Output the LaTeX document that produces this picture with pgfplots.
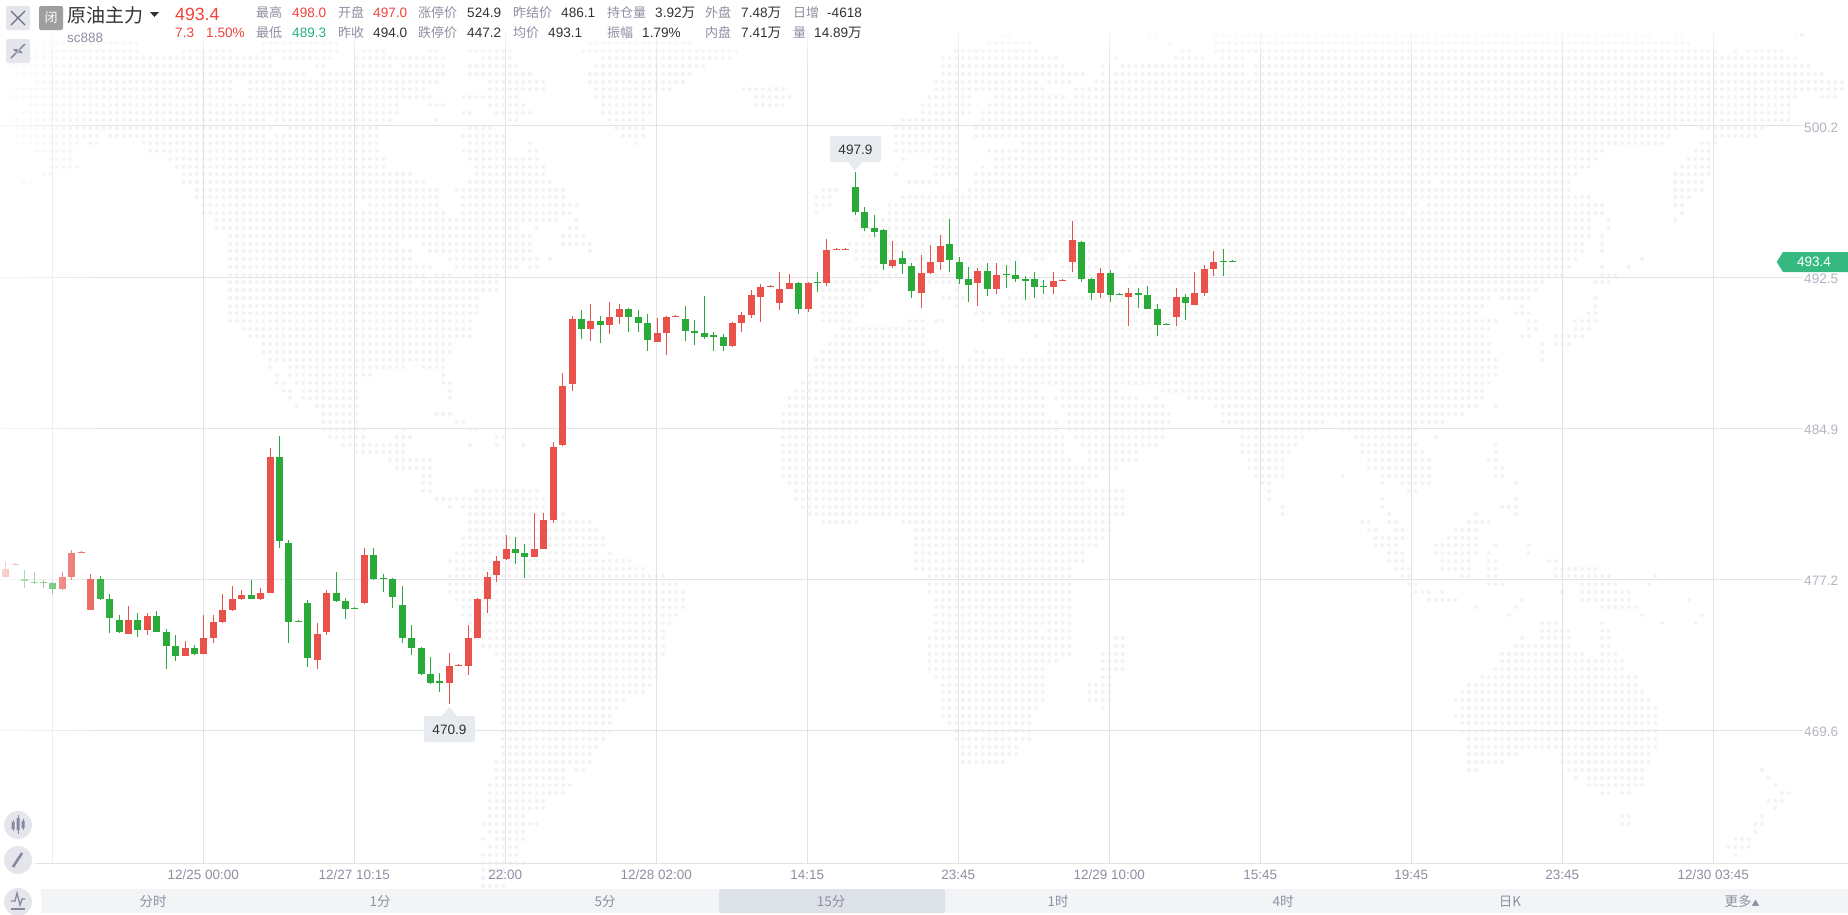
\documentclass[border=0pt]{standalone}
\usepackage{fontspec}
\usepackage{pgfplots}
\usepackage{pgfplotstable}
\pgfplotsset{compat=1.18}
\usetikzlibrary{fadings}
\setmainfont{Liberation Sans}
\newfontfamily\cjk{Noto Sans CJK SC}

\definecolor{upred}{HTML}{E9524A}
\definecolor{downgreen}{HTML}{2AAB39}
\definecolor{hdred}{HTML}{F0443A}
\definecolor{hdgreen}{HTML}{22B27C}
\definecolor{taggreen}{HTML}{36B981}
\definecolor{gridc}{HTML}{E2E2E8}
\definecolor{dotc}{HTML}{F3F3F5}
\definecolor{lab}{HTML}{8E90A2}
\definecolor{val}{HTML}{333333}
\definecolor{axlab}{HTML}{B4B5C2}
\definecolor{tabbg}{HTML}{F3F4F6}
\definecolor{tabsel}{HTML}{DDE1E8}
\definecolor{iconbg}{HTML}{E4E6EC}
\definecolor{iconfg}{HTML}{8688A0}

% i low bot top high
\pgfplotstableread{
i low bot top high
0 477.32 477.37 477.77 478.12
1 477.97 477.97 478.03 478.07
6 476.70 476.76 477.37 477.62
7 477.22 477.37 478.59 478.74
8 478.59 478.59 478.64 478.69
9 475.70 475.70 477.27 477.52
13 474.48 474.48 475.19 475.90
15 474.43 474.68 475.39 475.55
19 473.36 473.36 473.77 474.13
21 473.46 473.46 474.28 475.44
22 474.03 474.28 475.09 475.44
23 475.04 475.09 475.70 476.50
24 475.65 475.70 476.25 476.91
25 476.20 476.25 476.45 476.71
27 476.20 476.25 476.56 476.81
28 476.56 476.56 483.45 483.90
33 472.71 473.16 474.48 475.04
34 474.43 474.58 476.56 476.71
38 476.00 476.05 478.48 478.84
47 470.94 471.99 472.86 473.52
48 472.86 472.86 472.91 472.96
49 472.40 472.86 474.28 474.93
50 474.28 474.28 476.25 476.30
51 475.55 476.25 477.37 477.62
52 477.12 477.47 478.18 478.43
53 478.23 478.28 478.79 479.49
56 478.38 478.38 478.79 480.61
57 478.79 478.79 480.26 480.61
58 480.10 480.25 483.95 484.20
59 484.00 484.05 487.04 487.69
60 486.78 487.14 490.43 490.58
62 489.31 489.92 490.33 491.19
64 489.67 490.12 490.53 491.29
65 490.17 490.53 490.93 491.19
69 489.26 489.26 489.72 490.48
70 488.61 489.72 490.53 490.58
71 490.53 490.53 490.58 490.63
77 489.01 489.06 490.23 490.28
78 489.77 490.23 490.63 490.78
79 490.48 490.63 491.64 491.90
80 490.28 491.54 492.05 492.20
81 492.05 492.05 492.10 492.15
82 490.88 491.24 491.95 492.81
83 491.95 491.95 492.25 492.71
85 490.78 490.93 492.25 492.30
87 492.09 492.25 493.92 494.47
88 493.92 493.92 493.97 494.02
89 493.92 493.92 493.97 494.02
94 493.01 493.11 493.41 494.37
97 490.98 491.74 492.75 493.66
98 492.70 492.75 493.31 494.17
99 492.90 493.31 494.12 494.68
103 491.08 492.25 492.85 493.01
105 491.69 491.94 492.65 493.26
111 491.69 492.04 492.35 492.80
112 492.35 492.35 492.40 492.45
113 492.80 493.31 494.42 495.39
116 491.50 491.75 492.76 493.01
119 490.08 491.55 491.75 492.00
124 490.08 490.53 491.55 492.00
126 491.14 491.14 491.75 492.81
127 491.60 491.75 492.96 493.17
128 492.61 492.96 493.32 493.88
}\upT

\pgfplotstableread{
i low bot top high
2 476.81 477.17 477.27 477.72
3 477.02 477.07 477.12 477.62
4 476.81 477.07 477.12 477.22
5 476.50 476.76 477.07 477.12
10 476.20 476.25 477.27 477.42
11 474.53 475.29 476.25 476.50
12 474.53 474.58 475.19 475.44
14 474.33 474.68 475.19 475.55
16 474.58 474.58 475.39 475.65
17 472.71 473.87 474.58 474.73
18 473.11 473.36 473.87 474.43
20 473.41 473.46 473.77 473.93
26 476.25 476.25 476.45 477.22
29 478.84 479.19 483.45 484.51
30 474.03 475.09 479.09 479.24
31 475.09 475.09 475.14 475.19
32 472.81 473.26 476.05 476.20
35 476.10 476.15 476.56 477.62
36 475.24 475.75 476.15 476.30
37 475.75 475.75 475.80 475.85
39 477.22 477.27 478.48 478.84
40 476.61 477.27 477.32 477.52
41 475.80 476.35 477.27 477.32
42 474.03 474.28 475.95 476.91
43 473.41 473.77 474.28 474.93
44 472.40 472.46 473.77 473.82
45 471.94 471.99 472.46 473.31
46 471.54 471.99 472.10 472.51
54 478.02 478.59 478.79 479.39
55 477.32 478.38 478.59 479.04
61 489.42 489.92 490.43 490.88
63 489.21 490.12 490.33 490.58
66 489.77 490.53 490.93 490.98
67 489.77 490.23 490.53 490.88
68 488.81 489.36 490.23 490.68
72 489.31 489.82 490.43 491.09
73 489.11 489.72 489.82 490.38
74 489.42 489.52 489.72 491.59
75 488.81 489.52 489.62 489.77
76 488.81 489.06 489.52 489.67
84 490.68 490.93 492.25 492.30
86 491.79 492.25 492.30 492.80
90 495.69 495.84 497.11 497.87
91 494.88 495.03 495.84 496.09
92 494.58 494.83 495.03 495.69
93 492.90 493.21 494.93 494.98
95 492.70 493.21 493.51 493.87
96 491.49 491.84 493.11 493.26
100 492.80 493.41 494.22 495.49
101 492.20 492.45 493.31 493.56
102 491.28 492.15 492.45 493.06
104 491.59 491.94 492.85 493.26
106 491.99 492.65 492.70 493.16
107 492.30 492.45 492.65 493.36
108 491.39 492.35 492.45 492.60
109 491.49 492.04 492.45 492.80
110 491.70 492.05 492.10 492.41
114 492.31 492.46 494.33 494.38
115 491.39 491.75 492.46 492.51
117 491.29 491.65 492.76 492.91
118 491.65 491.65 491.70 491.75
120 490.99 491.65 491.75 492.00
121 490.94 490.94 491.65 492.10
122 489.57 490.13 490.94 491.19
123 490.13 490.13 490.18 490.23
125 490.38 491.24 491.55 491.70
129 492.61 493.32 493.37 493.98
130 493.32 493.32 493.37 493.42
}\downT

% background dot map: one row of dot runs, read off the zoomed crops
\newcommand{\R}[2]{%
  \foreach \ra/\rb in {#2}{%
    \pgfmathsetmacro\xa{\mx+\ra/\ms}%
    \pgfmathsetmacro\xb{\mx+\rb/\ms}%
    \pgfmathsetmacro\sx{round((\xa-3.7)/6.66)*6.66+3.7}%
    \pgfmathsetmacro\ex{max(\xb+0.5,\sx+0.02)}%
    \pgfmathsetmacro\yy{\my+#1/3}%
    \draw[dotc,line width=4pt,line cap=round,dash pattern=on 0.01pt off 6.65pt] (\sx,\yy) -- (\ex,\yy);
  }%
}
\newcommand{\hl}[3]{\node[anchor=base west,inner sep=0pt,text=lab,font=\cjk\fontsize{13}{13}\selectfont] at (#1,#2) {#3};}
\newcommand{\hv}[4][val]{\node[anchor=base west,inner sep=0pt,text=#1,font=\fontsize{13.6}{13.6}\selectfont] at (#2,#3) {#4};}
\newcommand{\tabt}[2]{\node[text=lab,font=\cjk\fontsize{13.5}{13.5}\selectfont,inner sep=0pt] at (#1,901.5) {#2};}

\begin{document}
\begin{tikzpicture}[x=1pt,y=-1pt]
\useasboundingbox (0,0) rectangle (1848,914);
\fill[white] (0,0) rectangle (1848,914);

\def\mx{0}\def\ms{1.697}\def\my{0}
\R{128}{60/240,445/575,1000/1180}
\R{152}{60/240,310/400,445/575,615/660,730/745,795/870,990/1255}
\R{175}{20/460,480/560,600/760,815/870,1020/1245}
\R{198}{20/460,535/550,610/670,680/760,795/880,1015/1200}
\R{222}{30/520,545/760,800/900,1000/1175}
\R{245}{60/395,420/745,830/925,1000/1165}
\R{268}{20/395,430/720,830/925,1010/1140,1260/1335}
\R{291}{20/400,420/740,790/880,1010/1110,1285/1345}
\R{315}{50/680,730/755,830/890,1020/1110,1285/1335}
\R{338}{40/680,785/800,840/900,1025/1105}
\R{361}{20/450,470/665,740/740,860/880,1030/1100,1535/1568}
\R{384}{30/460,490/640,800/835,1045/1100,1520/1568}
\R{407}{30/170,190/450,465/640,785/855,1060/1095,1525/1568}
\R{430}{30/130,150/165,240/640,795/855,900/900,1080/1080,1525/1568}
\R{453}{60/120,260/640,785/855,900/915,1525/1560}
\R{477}{90/120,290/650,795/855,865/915,1535/1535}
\R{500}{90/130,300/650,810/925}
\R{523}{70/85,310/700,810/925,1525/1525}
\R{546}{45/60,310/720,800/935,1545/1568}
\R{569}{330/745,775/960,1400/1420}
\R{592}{330/745,785/960,1385/1415,1535/1568}
\R{615}{350/600,625/745,785/985,1385/1415,1510/1568}
\R{638}{350/755,785/970,1385/1395,1510/1568}
\R{661}{365/950,980/980,1450/1568}
\R{685}{365/880,910/910,965/985,1465/1568}
\R{708}{390/900,955/995,1465/1568}
\R{731}{385/680,720/905,955/1005,1440/1568}
\R{754}{385/700,725/905,1000/1000,1455/1568}
\R{777}{385/700,760/915,935/935,1455/1568}
\R{800}{385/735,770/885,900/915,1465/1530}
\R{824}{385/720,745/770,805/850,1465/1530}
\R{847}{385/700,720/850,1400/1495}
\R{870}{385/850,1400/1480}
\R{893}{385/815,1400/1470}
\R{917}{385/810,1400/1470}
\R{940}{395/815,1400/1460}
\R{963}{395/800,1400/1450,1540/1568}
\R{986}{410/800,1425/1568}
\R{1009}{420/800,1415/1568}
\R{1033}{445/770,1410/1568}
\R{1056}{445/770,1400/1568}
\R{1079}{460/460,475/755,1385/1568}
\R{1102}{460/460,490/685,720/755,1385/1568}
\R{1125}{470/470,490/630,750/750,1375/1568}
\R{1149}{470/485,500/610,750/770,1365/1568}
\R{1172}{480/495,510/610,760/760,1350/1568}
\R{1195}{490/490,520/610,760/760,1340/1568}
\R{1218}{505/505,535/610,1340/1568}
\R{1241}{545/610,740/770,1330/1568}
\R{1265}{545/610,775/790,1330/1568}
\R{1288}{545/620,685/685,800/815,1330/1568}
\R{1311}{555/620,670/700,840/860,1330/1568}
\R{1334}{580/685,800/800,845/845,890/890,1330/1568}
\R{1357}{600/690,1330/1568}
\R{1380}{660/735,1330/1568}
\R{1403}{670/735,1330/1568}
\R{1427}{715/735,1330/1568}

\def\mx{924}
\R{35}{380/395,530/530,615/1030}
\R{58}{380/395,510/550,580/1040,1120/1190}
\R{82}{355/395,510/1040,1135/1215}
\R{105}{130/155,380/395,490/1235,1270/1290,1480/1495}
\R{128}{115/180,420/420,500/540,555/1300}
\R{152}{60/190,435/460,500/540,555/1345,1380/1380,1400/1460}
\R{175}{35/230,330/330,425/480,510/540,570/570,590/1480}
\R{198}{30/240,300/310,340/545,560/1505}
\R{222}{35/270,300/300,330/540,560/1530}
\R{245}{25/190,215/255,295/1560}
\R{268}{15/210,260/1490,1500/1568}
\R{291}{10/85,125/235,260/1485,1525/1550}
\R{315}{0/85,115/1475}
\R{338}{0/85,100/1475}
\R{361}{0/60,95/1340,1350/1475}
\R{384}{0/55,90/1280,1320/1430}
\R{407}{0/55,90/1270,1340/1415}
\R{430}{0/60,170/1255,1320/1345}
\R{453}{0/60,115/1155,1310/1340}
\R{477}{15/55,125/1140,1300/1340}
\R{500}{15/55,95/110,125/1130,1285/1335}
\R{523}{20/55,90/1115,1275/1335}
\R{546}{0/30,90/860,875/1100,1275/1325}
\R{569}{60/60,80/1100,1275/1325}
\R{592}{0/850,860/1130,1275/1305}
\R{615}{0/840,855/1155,1275/1290}
\R{638}{0/815,830/1155,1285/1285}
\R{661}{0/1130,1160/1160,1275/1275}
\R{685}{0/1130,1160/1160}
\R{708}{0/1130,1150/1150}
\R{731}{0/1120,1150/1150}
\R{754}{0/350,375/1120,1150/1150}
\R{777}{0/165,195/210,245/325,375/1110,1220/1220}
\R{800}{0/165,230/325,350/1100,1150/1150,1195/1195}
\R{824}{0/160,230/325,350/1085,1150/1180}
\R{847}{0/60,350/1050,1140/1165}
\R{870}{60/60,350/1040}
\R{893}{35/90,140/960,980/1030,1140/1140}
\R{917}{50/50,135/950,1015/1015,1140/1140}
\R{940}{90/120,135/940,1000/1030,1125/1145}
\R{963}{25/40,95/95,150/970,1025/1040,1105/1145}
\R{986}{220/960,1025/1040,1100/1130}
\R{1009}{195/195,220/950,1015/1030,1070/1120}
\R{1033}{215/960,1050/1050,1070/1100}
\R{1056}{0/30,85/110,215/960,1050/1050}
\R{1079}{0/40,80/140,170/970,1050/1050}
\R{1102}{0/970}
\R{1125}{0/970}
\R{1149}{0/960}
\R{1172}{0/200,230/335,410/950}
\R{1195}{0/210,225/360,390/390,445/950}
\R{1218}{0/210,240/405,500/940,970/970}
\R{1241}{0/210,250/425,510/920}
\R{1265}{0/225,250/425,510/680,715/880}
\R{1288}{0/225,250/415,545/665,715/835}
\R{1311}{0/235,260/405,545/645,730/825,865/865}
\R{1334}{0/245,270/395,545/630,740/835,965/965}
\R{1357}{0/245,285/370,545/620,740/740,760/850,965/965}
\R{1380}{0/255,285/360,555/610,760/860,955/970}
\R{1403}{0/270,285/325,555/610,760/860,965/985}
\R{1427}{0/300,560/610,715/715,775/860,965/990}

\def\mx{400}\def\ms{1.12}\def\my{460}
\R{70}{25/35,435/770,965/980,1100/1100,1120/1155,1250/1250}
\R{93}{25/35,85/155,445/815,970/980,1130/1140}
\R{117}{40/165,445/815,970/970,1100/1100,1250/1250}
\R{140}{55/55,70/165,450/810,985/995,1100/1100,1235/1250}
\R{163}{80/185,460/810,985/995,1105/1105,1205/1205,1250/1250}
\R{186}{80/215,475/515,560/800,1075/1085,1105/1120,1195/1220}
\R{210}{80/225,580/795,1085/1095,1115/1125,1180/1205}
\R{233}{70/230,580/790,1090/1125,1175/1205}
\R{256}{70/230,580/780,1095/1115,1160/1205,1225/1225,1265/1265}
\R{280}{65/225,235/235,580/770,1105/1125,1160/1205,1220/1220,1265/1265}
\R{303}{55/260,580/765,1105/1125,1165/1200,1220/1230,1285/1295}
\R{326}{60/275,580/755,1115/1130,1165/1200,1220/1230,1295/1340}
\R{349}{55/300,590/750,1120/1135,1190/1200,1220/1230,1295/1355,1405/1405}
\R{372}{55/315,595/690,700/755,1130/1140,1220/1235,1325/1365,1400/1400}
\R{396}{55/320,595/690,700/750,1135/1155,1165/1165,1300/1300,1325/1380}
\R{419}{60/320,600/750,1150/1185,1255/1255,1325/1380,1445/1445}
\R{442}{70/320,600/750,1205/1205,1250/1250,1345/1385}
\R{465}{70/315,600/755,1240/1240,1390/1390,1460/1460}
\R{488}{75/305,600/720,730/755,1280/1295,1345/1345,1415/1415,1450/1450}
\R{512}{80/300,600/715,730/755,1280/1310,1345/1355}
\R{535}{85/300,595/755,805/815,1255/1255,1280/1310,1345/1355}
\R{558}{90/300,595/755,800/815,1250/1310,1345/1360}
\R{581}{105/300,595/750,785/810,1235/1325,1345/1365}
\R{604}{115/290,595/735,785/810,1235/1370}
\R{628}{115/290,595/725,785/810,1225/1370}
\R{651}{115/290,600/725,785/800,1210/1385}
\R{674}{115/285,610/725,775/800,1195/1385}
\R{697}{115/275,610/725,775/800,1190/1395}
\R{720}{115/250,610/725,775/795,1180/1400}
\R{743}{115/245,610/715,785/785,1190/1410}
\R{767}{115/240,610/710,1180/1410}
\R{790}{115/240,615/710,1190/1410}
\R{813}{115/240,625/705,1190/1410}
\R{836}{115/230,625/705,1195/1410}
\R{860}{115/225,630/695,1195/1410}
\R{883}{115/215,630/690,1195/1250,1300/1405}
\R{906}{105/215,630/680,1195/1235,1305/1400}
\R{929}{105/185,195/210,1195/1205,1310/1395,1525/1525}
\R{953}{105/185,1315/1315,1330/1395,1530/1530}
\R{976}{100/195,1335/1395,1540/1540}
\R{999}{100/185,1345/1355,1370/1380,1545/1555}
\R{1022}{100/165,1535/1550}
\R{1045}{100/165,1540/1540}
\R{1069}{100/140,1370/1380,1525/1525}
\R{1092}{95/155,1370/1380,1520/1530}
\R{1115}{100/140,1515/1515}
\R{1138}{95/95,105/140,1495/1510}
\R{1161}{100/130,1490/1510}
\R{1185}{90/135,1495/1495}
\R{1208}{95/140}
\R{1231}{95/120}
\R{1254}{95/120}
\R{1277}{95/120}
\R{1300}{100/120,180/180}
\R{1323}{100/125}

\begin{axis}[
  at={(0pt,-863.3pt)},anchor=south west,
  scale only axis,width=1803pt,height=863.3pt,
  xmin=-0.615,xmax=190.43,ymin=462.866,ymax=506.577,
  axis line style={draw=none},
  major tick length=0pt,
  grid=major,
  grid style={gridc,line width=1pt},
  xtick={4.93,20.93,36.93,52.93,68.93,84.93,100.93,116.93,132.93,148.93,164.93,180.93},
  xticklabels={,12/25 00:00,12/27 10:15,22:00,12/28 02:00,14:15,23:45,12/29 10:00,15:45,19:45,23:45,12/30 03:45},
  ytick={469.6,477.25,484.9,492.55,500.2},
  yticklabels={469.6,477.2,484.9,492.5,500.2},
  yticklabel pos=right,
  xticklabel style={text=lab,font=\fontsize{13.5}{13.5}\selectfont,inner sep=0pt,yshift=-6.5pt},
  yticklabel style={text=axlab,font=\fontsize{13.6}{13.6}\selectfont,inner sep=0pt,xshift=1pt,yshift=-2pt},
  clip=true,
  candle/.style={only marks,mark=*,mark size=0pt,mark options={draw=none,fill=none},forget plot},
]
% wicks first, bodies on top
\addplot[candle,error bars/.cd,y dir=plus,y explicit,error mark=none,
  error bar style={upred,line width=1pt}]
  table[x=i,y=low,y error expr=\thisrow{high}-\thisrow{low}] {\upT};
\addplot[candle,error bars/.cd,y dir=plus,y explicit,error mark=none,
  error bar style={downgreen,line width=1pt}]
  table[x=i,y=low,y error expr=\thisrow{high}-\thisrow{low}] {\downT};
\addplot[candle,error bars/.cd,y dir=plus,y explicit,error mark=none,
  error bar style={upred,line width=7pt}]
  table[x=i,y=bot,y error expr=\thisrow{top}-\thisrow{bot}] {\upT};
\addplot[candle,error bars/.cd,y dir=plus,y explicit,error mark=none,
  error bar style={downgreen,line width=7pt}]
  table[x=i,y=bot,y error expr=\thisrow{top}-\thisrow{bot}] {\downT};
\end{axis}

% fades at the left and top edges
\fill[white,path fading=east] (-37.5,0) rectangle (112.5,863);
\fill[white] (0,0) rectangle (1848,30);
\fill[white,path fading=south] (0,10) rectangle (1803,70);

% baseline and tab bar
\draw[gridc,line width=1pt] (35,863.3) -- (1848,863.3);
\fill[tabbg] (41,889) rectangle (1848,913);
\fill[tabsel,rounded corners=2pt] (719,889) rectangle (945,913);
\tabt{153}{分时}\tabt{380}{1分}\tabt{605}{5分}\tabt{831}{15分}
\tabt{1058}{1时}\tabt{1283}{4时}\tabt{1510}{日K}\tabt{1742}{更多{\fontsize{8}{8}\selectfont ▲}}

% high / low callouts
\fill[tabsel!70!white,rounded corners=2pt] (830,136) rectangle (881,162);
\fill[tabsel!70!white] (848,162) -- (855,171) -- (862,162) -- cycle;
\node[text=val,font=\fontsize{13.6}{13.6}\selectfont,inner sep=0pt] at (855.5,149.5) {497.9};
\fill[tabsel!70!white,rounded corners=2pt] (424,716) rectangle (475,742);
\fill[tabsel!70!white] (442,716) -- (449.5,707) -- (457,716) -- cycle;
\node[text=val,font=\fontsize{13.6}{13.6}\selectfont,inner sep=0pt] at (449.5,729.5) {470.9};

% last price tag
\fill[taggreen] (1776.7,262) -- (1783,252) -- (1848,252) -- (1848,272) -- (1783,272) -- cycle;
\node[text=white,font=\fontsize{13.6}{13.6}\selectfont,inner sep=0pt] at (1814,262) {493.4};

% header
\fill[iconbg,rounded corners=2pt] (6,6) rectangle (30,30);
\draw[iconfg!80!black,line width=1.2pt] (11,11) -- (25,25) (25,11) -- (11,25);
\fill[iconbg,rounded corners=2pt] (6,39) rectangle (30,63);
\draw[iconfg,line width=1.6pt] (11,58) -- (16,53) (25,44) -- (20,49);
\fill[iconfg] (13,49) -- (17.5,49) -- (17.5,53.5) -- cycle (23,53) -- (18.5,53) -- (18.5,48.5) -- cycle;
\fill[black!38,rounded corners=2pt] (39,6) rectangle (63,30);
\node[text=white,font=\cjk\fontsize{13}{13}\selectfont,inner sep=0pt] at (51,18) {闭};
\node[anchor=base west,inner sep=0pt,text=val,font=\cjk\fontsize{19}{19}\selectfont] at (67,22) {原油主力};
\fill[val] (150,12) -- (159,12) -- (154.5,17) -- cycle;
\node[anchor=base west,inner sep=0pt,text=lab,font=\fontsize{13.5}{13.5}\selectfont] at (67,42) {sc888};
\node[anchor=base west,inner sep=0pt,text=hdred,font=\fontsize{17.7}{17.7}\selectfont] at (175,20.5) {493.4};
\hv[hdred]{175}{37.7}{7.3}\hv[hdred]{206}{37.7}{1.50\%}
\hl{256}{17.7}{最高}\hv[hdred]{292}{17.7}{498.0}\hl{338}{17.7}{开盘}\hv[hdred]{373}{17.7}{497.0}
\hl{418}{17.7}{涨停价}\hv{467}{17.7}{524.9}\hl{513}{17.7}{昨结价}\hv{561}{17.7}{486.1}
\hl{607}{17.7}{持仓量}\hv{655}{17.7}{3.92{\cjk 万}}\hl{705}{17.7}{外盘}\hv{741}{17.7}{7.48{\cjk 万}}
\hl{793}{17.7}{日增}\hv{827}{17.7}{-4618}
\hl{256}{37.7}{最低}\hv[hdgreen]{292}{37.7}{489.3}\hl{338}{37.7}{昨收}\hv{373}{37.7}{494.0}
\hl{418}{37.7}{跌停价}\hv{467}{37.7}{447.2}\hl{513}{37.7}{均价}\hv{548}{37.7}{493.1}
\hl{607}{37.7}{振幅}\hv{642}{37.7}{1.79\%}\hl{705}{37.7}{内盘}\hv{741}{37.7}{7.41{\cjk 万}}
\hl{793}{37.7}{量}\hv{814}{37.7}{14.89{\cjk 万}}

% tool buttons, bottom left
\fill[iconbg] (18,825) circle (14);
\fill[iconfg] (11.5,822) rectangle (14.5,829) (16.5,818) rectangle (19.5,830) (21.5,821) rectangle (24.5,828);
\draw[iconfg,line width=1pt] (13,820) -- (13,831) (18,815) -- (18,834) (23,819) -- (23,830);
\fill[iconbg] (18,860) circle (14);
\draw[iconfg,line width=2.6pt] (13,867) -- (22,853);
\fill[iconbg] (18,902) circle (14);
\draw[iconfg,line width=1.3pt] (11,901) -- (15,901) -- (17,893) -- (20,905) -- (22,899) -- (25,899);
\draw[iconfg,line width=1.6pt] (11,909) -- (25,909);
\end{tikzpicture}
\end{document}
